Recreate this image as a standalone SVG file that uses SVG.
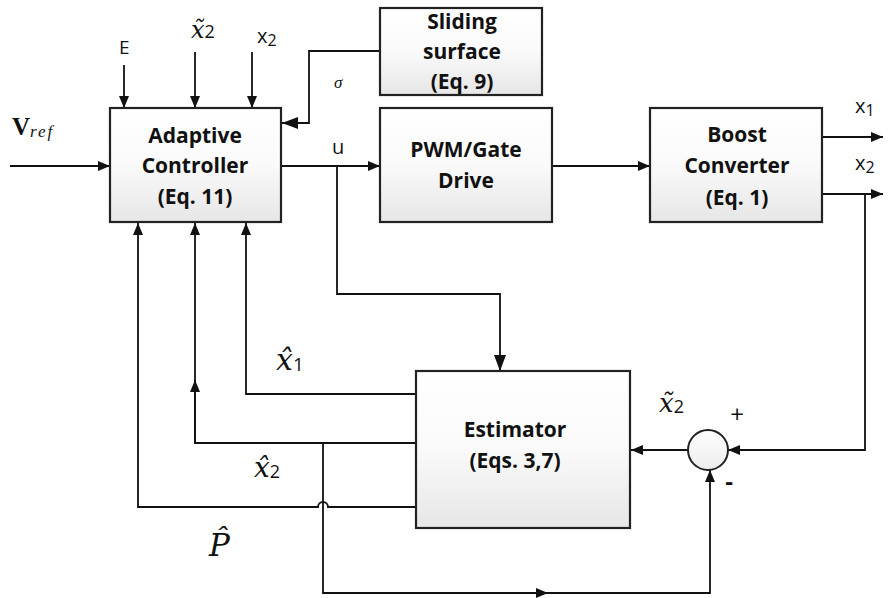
<svg xmlns="http://www.w3.org/2000/svg" width="893" height="598" viewBox="0 0 893 598">
<defs>
<linearGradient id="boxfill" x1="0" y1="0" x2="0" y2="1">
<stop offset="0" stop-color="#ffffff"/>
<stop offset="0.5" stop-color="#fafafa"/>
<stop offset="1" stop-color="#e6e6e6"/>
</linearGradient>
<linearGradient id="circfill" x1="0" y1="0" x2="0" y2="1">
<stop offset="0" stop-color="#ffffff"/>
<stop offset="1" stop-color="#ececec"/>
</linearGradient>
<marker id="arr" viewBox="0 0 12 10" refX="12" refY="5" markerWidth="12" markerHeight="10" markerUnits="userSpaceOnUse" orient="auto">
<path d="M0,0 L12,5 L0,10 Z" fill="#111"/>
</marker>
<marker id="arrbig" viewBox="0 0 16 12" refX="16" refY="6" markerWidth="16" markerHeight="12" markerUnits="userSpaceOnUse" orient="auto">
<path d="M0,0 L16,6 L0,12 Z" fill="#111"/>
</marker>
</defs>
<style>
.box{fill:url(#boxfill);stroke:#222;stroke-width:2.2}
.bt{font-family:"Open Sans","Liberation Sans",sans-serif;font-weight:bold;font-size:21px;fill:#111;text-anchor:middle}
.lbl{font-family:"Open Sans","Liberation Sans",sans-serif;fill:#111}
.math{font-family:"DejaVu Serif","Liberation Serif",serif;font-style:italic;fill:#111}
.sub{font-family:"Open Sans","Liberation Sans",sans-serif;font-style:normal}
.ln{fill:none;stroke:#111;stroke-width:1.8}
</style>
<rect width="893" height="598" fill="#ffffff"/>

<g id="connectors">
<path class="ln" d="M10,166 H110" marker-end="url(#arr)"/>
<path class="ln" d="M124,65 V108" marker-end="url(#arr)"/>
<path class="ln" d="M195,52 V108" marker-end="url(#arr)"/>
<path class="ln" d="M252,52 V108" marker-end="url(#arr)"/>
<path class="ln" d="M380,51 H309 V123 H282" marker-end="url(#arrbig)"/>
<path class="ln" d="M281,166 H380" marker-end="url(#arr)"/>
<path class="ln" d="M337,166 V294 H500 V371" marker-end="url(#arrbig)"/>
<path class="ln" d="M552,166 H650" marker-end="url(#arr)"/>
<path class="ln" d="M822,137 H883" marker-end="url(#arr)"/>
<path class="ln" d="M822,194 H883" marker-end="url(#arr)"/>
<path class="ln" d="M865,194 V450 H728" marker-end="url(#arr)"/>
<path class="ln" d="M688,450 H631" marker-end="url(#arr)"/>
<path class="ln" d="M416,394 H246 V223" marker-end="url(#arr)"/>
<path class="ln" d="M416,443 H195 V223" marker-end="url(#arr)"/>
<path class="ln" d="M323,443 H195 V380" marker-end="url(#arr)"/>
<path class="ln" d="M416,507 H328 A5,5 0 0 0 318,507 H138 V223" marker-end="url(#arr)"/>
<path class="ln" d="M323,443 V593 H548" marker-end="url(#arr)"/>
<path class="ln" d="M540,593 H710 V470" marker-end="url(#arr)"/>
</g>

<g id="adaptive-controller">
<rect class="box" x="110" y="108" width="171" height="114"/>
<text class="bt" x="195" y="143">Adaptive</text>
<text class="bt" x="195" y="173">Controller</text>
<text class="bt" x="195" y="204">(Eq. 11)</text>
</g>

<g id="sliding-surface">
<rect class="box" x="380" y="8" width="162" height="87"/>
<text class="bt" x="462" y="29">Sliding</text>
<text class="bt" x="462" y="59">surface</text>
<text class="bt" x="462" y="89">(Eq. 9)</text>
</g>

<g id="pwm-gate-drive">
<rect class="box" x="380" y="108" width="172" height="114"/>
<text class="bt" x="466" y="157">PWM/Gate</text>
<text class="bt" x="466" y="188">Drive</text>
</g>

<g id="boost-converter">
<rect class="box" x="650" y="108" width="172" height="114"/>
<text class="bt" x="737" y="142">Boost</text>
<text class="bt" x="737" y="173">Converter</text>
<text class="bt" x="737" y="205">(Eq. 1)</text>
</g>

<g id="estimator">
<rect class="box" x="416" y="371" width="214" height="157"/>
<text class="bt" x="515" y="437">Estimator</text>
<text class="bt" x="515" y="468">(Eqs. 3,7)</text>
</g>

<g id="summer">
<circle cx="708" cy="450" r="20" fill="url(#circfill)" stroke="#222" stroke-width="2"/>
<text class="lbl" x="737" y="423" text-anchor="middle" style="font-size:24px">+</text>
<text class="lbl" x="729" y="490" text-anchor="middle" style="font-size:24px;font-weight:bold">-</text>
</g>

<g id="labels">
<text x="12" y="135" style="font-family:'Liberation Serif',serif;font-weight:bold;font-size:25px" fill="#111">V<tspan style="font-style:italic;font-weight:normal;font-size:17px;letter-spacing:2px" dy="2">ref</tspan></text>
<text class="lbl" x="119" y="54" style="font-size:19px">E</text>
<text class="math" x="191" y="38" style="font-size:24px">x̃<tspan class="sub" style="font-size:18px">2</tspan></text>
<text class="lbl" x="257" y="43" style="font-size:20px">x<tspan style="font-size:16px" dy="3">2</tspan></text>
<text class="math" x="334" y="88" style="font-size:17px;font-family:'Liberation Serif',serif">σ</text>
<text class="lbl" x="332" y="154" style="font-size:20px">u</text>
<text class="lbl" x="855" y="113" style="font-size:20px">x<tspan style="font-size:16px" dy="3">1</tspan></text>
<text class="lbl" x="855" y="170" style="font-size:20px">x<tspan style="font-size:16px" dy="3">2</tspan></text>
<text class="math" x="276" y="370" style="font-size:30px">x̂<tspan class="sub" style="font-size:19px" dy="1">1</tspan></text>
<text class="math" x="254" y="477" style="font-size:28px">x̂<tspan class="sub" style="font-size:18px" dy="1">2</tspan></text>
<text class="math" x="209" y="556" style="font-size:31px">P̂</text>
<text class="math" x="659" y="412" style="font-size:26px">x̃<tspan class="sub" style="font-size:18px" dy="1">2</tspan></text>
</g>
</svg>
